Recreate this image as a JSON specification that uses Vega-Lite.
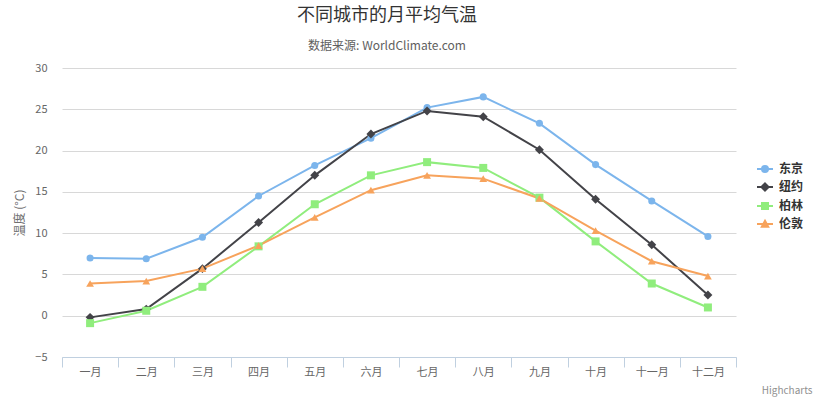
{
  "$schema": "https://vega.github.io/schema/vega-lite/v6.json",
  "width": 674,
  "height": 289,
  "autosize": {"type": "none"},
  "padding": {"left": 62, "top": 68, "right": 84, "bottom": 44},
  "background": "#ffffff",
  "config": {
    "font": "Noto Sans CJK SC",
    "view": {"stroke": null}
  },
  "title": {
    "text": "不同城市的月平均气温",
    "subtitle": "数据来源: WorldClimate.com",
    "anchor": "middle",
    "frame": "group",
    "dx": -12,
    "fontSize": 18,
    "fontWeight": "normal",
    "color": "#333333",
    "subtitleFontSize": 12,
    "subtitleColor": "#606060",
    "subtitlePadding": 16,
    "offset": 10
  },
  "data": {
    "values": [
      {"month": "一月", "city": "东京", "temp": 7.0},
      {"month": "二月", "city": "东京", "temp": 6.9},
      {"month": "三月", "city": "东京", "temp": 9.5},
      {"month": "四月", "city": "东京", "temp": 14.5},
      {"month": "五月", "city": "东京", "temp": 18.2},
      {"month": "六月", "city": "东京", "temp": 21.5},
      {"month": "七月", "city": "东京", "temp": 25.2},
      {"month": "八月", "city": "东京", "temp": 26.5},
      {"month": "九月", "city": "东京", "temp": 23.3},
      {"month": "十月", "city": "东京", "temp": 18.3},
      {"month": "十一月", "city": "东京", "temp": 13.9},
      {"month": "十二月", "city": "东京", "temp": 9.6},
      {"month": "一月", "city": "纽约", "temp": -0.2},
      {"month": "二月", "city": "纽约", "temp": 0.8},
      {"month": "三月", "city": "纽约", "temp": 5.7},
      {"month": "四月", "city": "纽约", "temp": 11.3},
      {"month": "五月", "city": "纽约", "temp": 17.0},
      {"month": "六月", "city": "纽约", "temp": 22.0},
      {"month": "七月", "city": "纽约", "temp": 24.8},
      {"month": "八月", "city": "纽约", "temp": 24.1},
      {"month": "九月", "city": "纽约", "temp": 20.1},
      {"month": "十月", "city": "纽约", "temp": 14.1},
      {"month": "十一月", "city": "纽约", "temp": 8.6},
      {"month": "十二月", "city": "纽约", "temp": 2.5},
      {"month": "一月", "city": "柏林", "temp": -0.9},
      {"month": "二月", "city": "柏林", "temp": 0.6},
      {"month": "三月", "city": "柏林", "temp": 3.5},
      {"month": "四月", "city": "柏林", "temp": 8.4},
      {"month": "五月", "city": "柏林", "temp": 13.5},
      {"month": "六月", "city": "柏林", "temp": 17.0},
      {"month": "七月", "city": "柏林", "temp": 18.6},
      {"month": "八月", "city": "柏林", "temp": 17.9},
      {"month": "九月", "city": "柏林", "temp": 14.3},
      {"month": "十月", "city": "柏林", "temp": 9.0},
      {"month": "十一月", "city": "柏林", "temp": 3.9},
      {"month": "十二月", "city": "柏林", "temp": 1.0},
      {"month": "一月", "city": "伦敦", "temp": 3.9},
      {"month": "二月", "city": "伦敦", "temp": 4.2},
      {"month": "三月", "city": "伦敦", "temp": 5.7},
      {"month": "四月", "city": "伦敦", "temp": 8.5},
      {"month": "五月", "city": "伦敦", "temp": 11.9},
      {"month": "六月", "city": "伦敦", "temp": 15.2},
      {"month": "七月", "city": "伦敦", "temp": 17.0},
      {"month": "八月", "city": "伦敦", "temp": 16.6},
      {"month": "九月", "city": "伦敦", "temp": 14.2},
      {"month": "十月", "city": "伦敦", "temp": 10.3},
      {"month": "十一月", "city": "伦敦", "temp": 6.6},
      {"month": "十二月", "city": "伦敦", "temp": 4.8}
    ]
  },
  "encoding": {
    "x": {
      "field": "month",
      "type": "nominal",
      "sort": ["一月", "二月", "三月", "四月", "五月", "六月", "七月", "八月", "九月", "十月", "十一月", "十二月"],
      "scale": {"paddingInner": 0, "paddingOuter": 0},
      "axis": {
        "title": "Highcharts",
        "titleFontSize": 10,
        "titleFontWeight": "normal",
        "titleColor": "#909090",
        "titleAlign": "right",
        "titleAnchor": null,
        "titleX": 750,
        "titleY": 36,
        "titleBaseline": "alphabetic",
        "labelAngle": 0,
        "labelFontSize": 11,
        "labelColor": "#666666",
        "labelPadding": -1,
        "tickBand": "extent",
        "tickSize": 10,
        "tickColor": "#C0D0E0",
        "domainColor": "#C0D0E0",
        "grid": false
      }
    },
    "y": {
      "field": "temp",
      "type": "quantitative",
      "scale": {"domain": [-5, 30], "nice": false, "zero": false},
      "axis": {
        "title": "温度 (°C)",
        "titleFontSize": 12,
        "titleFontWeight": "normal",
        "titleColor": "#707070",
        "titlePadding": 8,
        "values": [-5, 0, 5, 10, 15, 20, 25, 30],
        "labelFontSize": 11,
        "labelColor": "#666666",
        "labelPadding": 15,
        "ticks": false,
        "tickSize": 0,
        "domain": false,
        "gridColor": "#D8D8D8",
        "labelExpr": "datum.value < 0 ? '−' + abs(datum.value) : datum.label"
      }
    },
    "color": {
      "field": "city",
      "type": "nominal",
      "scale": {
        "domain": ["东京", "纽约", "柏林", "伦敦"],
        "range": ["#7cb5ec", "#434348", "#90ed7d", "#f7a35c"]
      },
      "legend": {
        "title": null,
        "orient": "none",
        "legendX": 694,
        "legendY": 92,
        "padding": 0,
        "rowPadding": 2,
        "symbolSize": 256,
        "labelFontSize": 12,
        "labelFontWeight": "bold",
        "labelColor": "#333333",
        "labelOffset": 5,
        "encode": {
          "symbols": {
            "update": {
              "shape": {"signal": "datum.value === '东京' ? 'M-1,0L1,0M-0.375,0A0.375,0.375,0,1,0,0.375,0A0.375,0.375,0,1,0,-0.375,0Z' : datum.value === '纽约' ? 'M-1,0L1,0M0,-0.45L0.45,0L0,0.45L-0.45,0Z' : datum.value === '柏林' ? 'M-1,0L1,0M-0.375,-0.375L0.375,-0.375L0.375,0.375L-0.375,0.375Z' : 'M-1,0L1,0M0,-0.4L0.4,0.35L-0.4,0.35Z'"},
              "fill": {"scale": "color", "field": "value"},
              "stroke": {"scale": "color", "field": "value"},
              "strokeWidth": {"value": 2},
              "opacity": {"value": 1}
            }
          }
        }
      }
    }
  },
  "layer": [
    {
      "mark": {"type": "line", "strokeWidth": 2}
    },
    {
      "transform": [{"filter": "datum.city === '东京'"}],
      "mark": {"type": "point", "filled": true, "opacity": 1, "shape": "circle", "size": 50}
    },
    {
      "transform": [{"filter": "datum.city === '纽约'"}],
      "mark": {"type": "point", "filled": true, "opacity": 1, "shape": "diamond", "size": 80}
    },
    {
      "transform": [{"filter": "datum.city === '柏林'"}],
      "mark": {"type": "point", "filled": true, "opacity": 1, "shape": "square", "size": 64}
    },
    {
      "transform": [{"filter": "datum.city === '伦敦'"}],
      "mark": {"type": "point", "filled": true, "opacity": 1, "shape": "triangle-up", "size": 60}
    }
  ]
}
